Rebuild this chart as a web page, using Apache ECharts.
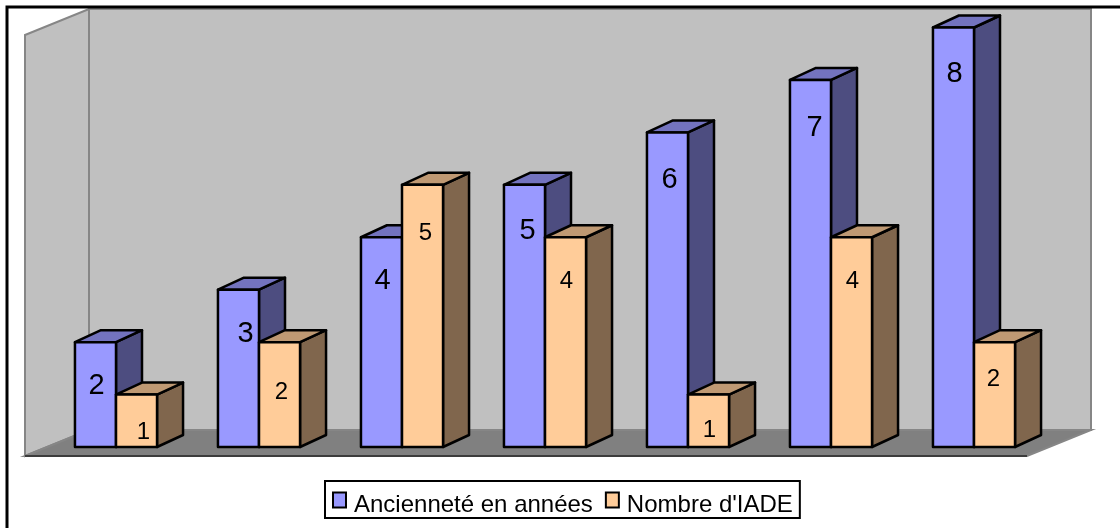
<!DOCTYPE html>
<html><head><meta charset="utf-8">
<style>html,body{margin:0;padding:0;background:#fff}#c{width:1120px;height:528px}</style>
<script src="https://cdn.jsdelivr.net/npm/echarts@6/dist/echarts.min.js"></script>
</head><body><div id="c"></div>
<script>
const categories = ['A','B','C','D','E','F','G'];
const ancienneteName = 'Ancienneté en années';
const iadeName = "Nombre d'IADE";
const anciennete = [2,3,4,5,6,7,8];
const iade = [1,2,5,4,1,4,2];

// label nudges from the front-face centre (layout only)
const blueNudge = [[1,44],[7,44],[1,44],[3,46],[2,48],[4,48],[1,46]];
const orangeNudge = [[7,38],[2,50],[3,49],[1,44],[1,36],[1,44],[-1,37]];

const FONT = '"Liberation Sans", Arial, sans-serif';
const DX = 26, DY = -12;

function box(fill, side, top, idx, fontSize, nudge) {
  return function (params, api) {
    const i = api.value(0), v = api.value(1);
    const band = api.size([1, 0])[0];
    const base = api.coord([i, 0]);
    const head = api.coord([i, v]);
    const w = band * 0.287;
    const x0 = base[0] + (idx === 0 ? -w : 0);
    const x1 = x0 + w;
    const yB = base[1], yT = head[1];
    const st = { stroke: '#000', lineWidth: 2.5, lineJoin: 'round' };
    const poly = (pts, f) => ({ type: 'polygon', shape: { points: pts }, style: Object.assign({ fill: f }, st) });
    const n = nudge[params.dataIndex];
    return {
      type: 'group',
      children: [
        poly([[x1, yB], [x1 + DX, yB + DY], [x1 + DX, yT + DY], [x1, yT]], side),
        poly([[x0, yT], [x0 + DX, yT + DY], [x1 + DX, yT + DY], [x1, yT]], top),
        poly([[x0, yB], [x0, yT], [x1, yT], [x1, yB]], fill),
        { type: 'text', style: { x: (x0 + x1) / 2 + n[0], y: yT + n[1], text: String(v),
            fill: '#000', font: fontSize + 'px ' + FONT, textAlign: 'center', textVerticalAlign: 'middle' } }
      ]
    };
  };
}

const wallLine = { stroke: '#868686', lineWidth: 2 };
const chart = echarts.init(document.getElementById('c'), null, { renderer: 'canvas' });
chart.setOption({
  animation: false,
  backgroundColor: '#fff',
  textStyle: { fontFamily: FONT },
  grid: { left: 44.5, top: 27.5, width: 1001, height: 419.5 },
  xAxis: { type: 'category', data: categories, show: false },
  yAxis: { type: 'value', min: 0, max: 8, interval: 1, show: false },
  legend: {
    left: 325, top: 481, padding: [2, 7, 1, 7],
    borderColor: '#000', borderWidth: 2, backgroundColor: '#fff',
    icon: 'rect', itemWidth: 13, itemHeight: 15, itemGap: 12,
    data: [ancienneteName, iadeName],
    selectedMode: false,
    itemStyle: { borderColor: '#000', borderWidth: 2 },
    formatter: '{t|{name}}',
    textStyle: {
      color: '#000', fontFamily: FONT, fontSize: 24,
      rich: { t: { fontSize: 24, fontFamily: FONT, color: '#000', height: 24, lineHeight: 24, padding: [10, 0, 0, 3] } }
    }
  },
  graphic: [
    { type: 'polygon', z: 0, silent: true, shape: { points: [[89,9],[1091,9],[1091,430],[89,430]] }, style: Object.assign({ fill: '#c0c0c0' }, wallLine) },
    { type: 'polygon', z: 0, silent: true, shape: { points: [[25,35],[89,9],[89,430],[25,456]] }, style: Object.assign({ fill: '#c0c0c0' }, wallLine) },
    { type: 'polygon', z: 0, silent: true, shape: { points: [[25,456],[89,430],[1091,430],[1027,456]] }, style: Object.assign({ fill: '#808080' }, wallLine) },
    { type: 'line', z: 0, silent: true, shape: { x1: 25, y1: 456, x2: 1027, y2: 456 }, style: { stroke: '#3c3c3c', lineWidth: 2 } },
    { type: 'polyline', z: 1, silent: true, shape: { points: [[7,528],[7,7],[1120,7]] }, style: { stroke: '#000', lineWidth: 3, fill: null } }
  ],
  series: [
    { name: ancienneteName, type: 'custom', clip: false, encode: { x: 0, y: 1 },
      itemStyle: { color: '#9999ff', borderColor: '#000', borderWidth: 2 },
      renderItem: box('#9999ff', '#4d4d80', '#7373bf', 0, 29, blueNudge),
      data: anciennete.map((v, i) => [i, v]) },
    { name: iadeName, type: 'custom', clip: false, encode: { x: 0, y: 1 },
      itemStyle: { color: '#ffcc99', borderColor: '#000', borderWidth: 2 },
      renderItem: box('#ffcc99', '#80664d', '#bf9973', 1, 24, orangeNudge),
      data: iade.map((v, i) => [i, v]) }
  ]
});
</script></body></html>
